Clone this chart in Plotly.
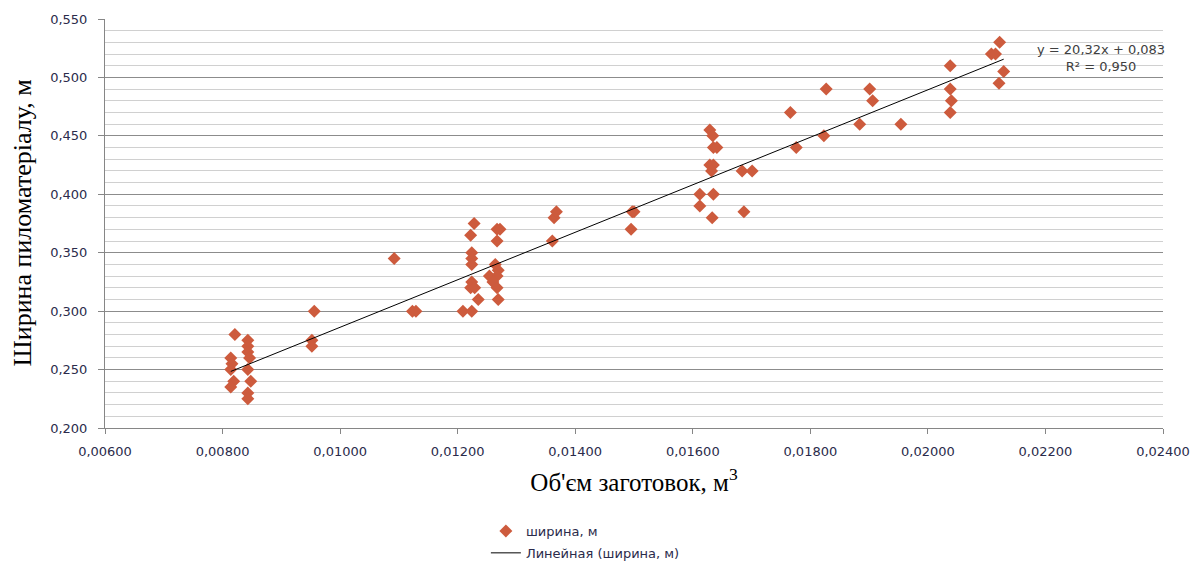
import plotly.graph_objects as go

# Data
x_volume = [
    0.00821, 0.00814, 0.00816, 0.00814, 0.00819, 0.00814,
    0.00843, 0.00843, 0.00843, 0.00846, 0.00843, 0.00848, 0.00843, 0.00843,
    0.00952, 0.00952, 0.00956, 0.01092, 0.01123, 0.01129,
    0.01209, 0.01224, 0.01228, 0.01222, 0.01224, 0.01224, 0.01224, 0.01224,
    0.01222, 0.01229, 0.01235,
    0.01267, 0.01272, 0.01267, 0.01264, 0.01269, 0.01267, 0.01254, 0.01260,
    0.01267, 0.01269,
    0.01361, 0.01364, 0.01368, 0.01497, 0.01500, 0.01495,
    0.01629, 0.01634, 0.01635, 0.01641, 0.01629, 0.01635, 0.01632, 0.01612,
    0.01635, 0.01612, 0.01633, 0.01684, 0.01701, 0.01687,
    0.01766, 0.01776, 0.01827, 0.01823, 0.01884, 0.01901, 0.01906, 0.01954,
    0.02038, 0.02038, 0.02040, 0.02038,
    0.02122, 0.02108, 0.02115, 0.02129, 0.02121,
]
y_width = [
    0.280, 0.260, 0.255, 0.250, 0.240, 0.235,
    0.275, 0.270, 0.265, 0.260, 0.250, 0.240, 0.230, 0.225,
    0.275, 0.270, 0.300, 0.345, 0.300, 0.300,
    0.300, 0.300, 0.375, 0.365, 0.350, 0.345, 0.340, 0.325,
    0.320, 0.320, 0.310,
    0.370, 0.370, 0.360, 0.340, 0.335, 0.330, 0.330, 0.325,
    0.320, 0.310,
    0.360, 0.380, 0.385, 0.385, 0.385, 0.370,
    0.455, 0.450, 0.440, 0.440, 0.425, 0.425, 0.420, 0.400,
    0.400, 0.390, 0.380, 0.420, 0.420, 0.385,
    0.470, 0.440, 0.490, 0.450, 0.460, 0.490, 0.480, 0.460,
    0.510, 0.490, 0.480, 0.470,
    0.530, 0.520, 0.520, 0.505, 0.495,
]

# Trendline coefficients as printed on the chart
slope = 20.32
intercept = 0.083
r_squared = 0.950

x_ticks = [0.006, 0.008, 0.010, 0.012, 0.014, 0.016, 0.018, 0.020, 0.022, 0.024]
y_ticks = [0.200, 0.250, 0.300, 0.350, 0.400, 0.450, 0.500, 0.550]

x_line = [min(x_volume), max(x_volume)]
y_line = [slope * v + intercept for v in x_line]

marker_color = "#CD5B3D"
tick_font = dict(family="DejaVu Sans", size=13, color="#2B2B4B")

# page body adds an 8px offset, so the figure is 8px smaller than the window
W, H = 1195, 560
ML, MR, MT, MB = 97, 40, 11, 140
PW = W - ML - MR
PH = H - MT - MB

fig = go.Figure()
fig.add_trace(go.Scatter(
    x=x_volume, y=y_width, mode="markers", name="ширина, м", legendgroup="a",
    marker=dict(symbol="diamond", size=10, color=marker_color,
                line=dict(width=0)),
))
fig.add_trace(go.Scatter(
    x=x_line, y=y_line, mode="lines", name="Линейная (ширина, м)", legendgroup="b",
    line=dict(color="#000000", width=1),
))

fig.update_layout(
    width=W, height=H,
    margin=dict(l=ML, r=MR, t=MT, b=MB, autoexpand=False),
    paper_bgcolor="white", plot_bgcolor="white",
    separators=", ",
    showlegend=True,
    legend=dict(
        orientation="v", x=0.360, xanchor="left", y=-88 / PH, yanchor="top",
        font=dict(family="DejaVu Sans", size=13, color="#2B2B4B"),
        bgcolor="rgba(0,0,0,0)", tracegroupgap=2, itemwidth=30,
        traceorder="grouped",
    ),
    xaxis=dict(
        range=[0.006, 0.024], tickvals=x_ticks, tickformat=".5f",
        showgrid=False, zeroline=False, automargin=False,
        showline=True, linecolor="#868686", linewidth=1,
        ticks="outside", ticklen=5, tickcolor="#868686",
        tickfont=tick_font, ticklabelstandoff=6,
        title=dict(text="Об'єм заготовок, м<sup>3</sup>",
                   font=dict(family="Liberation Serif", size=25, color="#000000")),
    ),
    yaxis=dict(
        range=[0.2, 0.55], tickvals=y_ticks, tickformat=".3f",
        showgrid=True, gridcolor="#8C8C8C", gridwidth=1,
        zeroline=False, automargin=False,
        showline=True, linecolor="#868686", linewidth=1,
        ticks="outside", ticklen=6, tickcolor="#868686",
        tickfont=tick_font, ticklabelstandoff=8,
        minor=dict(dtick=0.01, showgrid=True, gridcolor="#D0D0D0", gridwidth=1),
    ),
    annotations=[
        dict(text="y = 20,32x + 0,083<br>R² = 0,950", xref="paper", yref="paper",
             x=1.0 + (1101 - 1163) / PW, y=(428 - 58) / PH, xanchor="center",
             yanchor="middle", showarrow=False, align="center",
             font=dict(family="DejaVu Sans", size=13, color="#404040")),
        dict(text="Ширина пиломатеріалу, м", xref="paper", yref="paper",
             x=(22 - 8 - ML) / PW, y=0.5, xanchor="center", yanchor="middle",
             textangle=-90, showarrow=False,
             font=dict(family="Liberation Serif", size=26, color="#000000")),
    ],
)

fig.write_html("out.html")
